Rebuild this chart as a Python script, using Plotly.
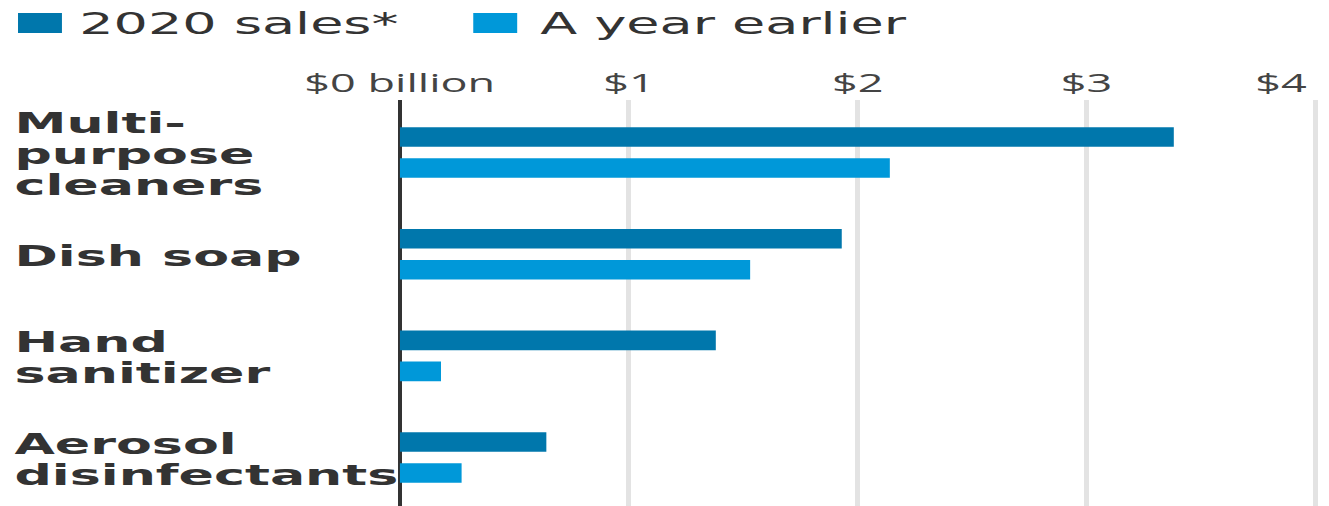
import plotly.graph_objects as go

# Values (billions of dollars)
categories = ["Multi-purpose cleaners", "Dish soap", "Hand sanitizer", "Aerosol disinfectants"]
label_lines = [["Multi-", "purpose", "cleaners"], ["Dish soap"], ["Hand", "sanitizer"], ["Aerosol", "disinfectants"]]
sales_2020 = [3.38, 1.93, 1.38, 0.64]
sales_year_earlier = [2.14, 1.53, 0.18, 0.27]
series_names = ["2020 sales*", "A year earlier"]
series_colors = ["#0077ac", "#0098d9"]
tick_values = [0, 1, 2, 3, 4]
tick_labels = ["$0 billion", "$1", "$2", "$3", "$4"]

# Page geometry: the chart is laid out narrow and stretched horizontally
PAGE_W, H = 1329, 506
W = 738
SX = PAGE_W / W
L, T = 222, 100
PX_PER_DOLLAR = 229 / SX
X_MAX = (W - L) / PX_PER_DOLLAR

TEXT = "#333333"


def xp(px):
    return (px - L) / (W - L)


def yp(py):
    return (H - py) / (H - T)


fig = go.Figure()
for name, vals, col in zip(series_names, [sales_2020, sales_year_earlier], series_colors):
    fig.add_trace(go.Bar(
        y=categories, x=vals, name=name, orientation="h",
        marker=dict(color=col, line=dict(width=0)),
        showlegend=False, hoverinfo="skip",
    ))

annotations = []
# Category labels, one annotation per line, left aligned
for cat, lines in zip(categories, label_lines):
    n = len(lines)
    for k, line in enumerate(lines):
        annotations.append(dict(
            x=xp(6.3), xref="paper", y=cat, yref="y",
            xanchor="left", yanchor="middle",
            yshift=-((k - (n - 1) / 2) * 31 + 1.5),
            text=line, showarrow=False,
            font=dict(family="DejaVu Sans", size=29, color=TEXT, weight="bold"),
        ))

# Value axis labels along the top
for i, (v, lab) in enumerate(zip(tick_values, tick_labels)):
    last = i == len(tick_values) - 1
    annotations.append(dict(
        x=v, xref="x", y=1, yref="paper",
        xanchor="right" if last else "center", yanchor="bottom",
        xshift=-3 if last else 0, yshift=-1,
        text=lab, showarrow=False,
        font=dict(family="Open Sans", size=25, color="#444444"),
    ))

# Legend
legend_items = [(10, 34.4, 41.5), (262.8, 287.2, 297.5)]
shapes = []
for (sx0, sx1, tx), name, col in zip(legend_items, series_names, series_colors):
    shapes.append(dict(
        type="rect", xref="paper", yref="paper",
        x0=xp(sx0), x1=xp(sx1), y0=yp(33), y1=yp(13),
        fillcolor=col, line=dict(width=0),
    ))
    annotations.append(dict(
        x=xp(tx), xref="paper", y=yp(23.5), yref="paper",
        xanchor="left", yanchor="middle",
        text=name, showarrow=False,
        font=dict(family="DejaVu Sans", size=30, color=TEXT),
    ))

fig.update_layout(
    width=W, height=H,
    margin=dict(l=L, r=0, t=T, b=0, pad=0),
    paper_bgcolor="white", plot_bgcolor="white",
    barmode="group", bargap=0.39, bargroupgap=0.37,
    xaxis=dict(
        range=[0, X_MAX], tickvals=tick_values, showticklabels=False,
        showgrid=True, gridcolor="#e3e3e3", gridwidth=2.5,
        zeroline=True, zerolinecolor="#333333", zerolinewidth=1.8,
        showline=False, ticks="", fixedrange=True,
    ),
    yaxis=dict(
        type="category", categoryorder="array", categoryarray=categories,
        range=[3.476, -0.516], showticklabels=False, showgrid=False,
        zeroline=False, showline=False, ticks="", fixedrange=True,
    ),
    annotations=annotations,
    shapes=shapes,
)

post = (
    "document.documentElement.style.margin='0';"
    "document.body.style.margin='0';"
    "document.body.style.overflow='hidden';"
    "var gd=document.getElementById('{plot_id}');"
    "gd.style.transformOrigin='0 0';"
    "gd.style.transform='scaleX(%.6f)';" % SX
)

fig.write_html("out.html", config={"displayModeBar": False}, post_script=post)
